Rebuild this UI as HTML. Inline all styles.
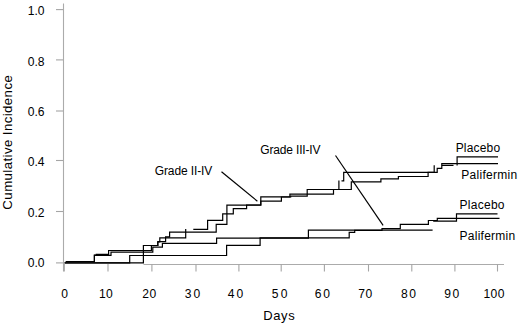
<!DOCTYPE html>
<html><head><meta charset="utf-8"><style>
html,body{margin:0;padding:0;background:#fff;}
svg{display:block;}
text{font-family:"Liberation Sans",sans-serif;fill:#000;}
</style></head><body>
<svg width="520" height="325" viewBox="0 0 520 325">
<rect width="520" height="325" fill="#fff"/>
<g stroke="#ababab" stroke-width="1.1" fill="none">
<line x1="63.5" y1="3.5" x2="63.5" y2="271.5"/>
<line x1="143.5" y1="264.5" x2="504" y2="264.5"/>
</g>
<g stroke="#a5a5a5" stroke-width="1.1" fill="none">
<line x1="56" y1="9.6" x2="63" y2="9.6"/><line x1="56" y1="59.9" x2="63" y2="59.9"/><line x1="56" y1="111.0" x2="63" y2="111.0"/><line x1="56" y1="160.5" x2="63" y2="160.5"/><line x1="56" y1="211.5" x2="63" y2="211.5"/><line x1="56" y1="262.9" x2="63" y2="262.9"/>
<line x1="64.3" y1="264" x2="64.3" y2="271.5"/><line x1="108.0" y1="264" x2="108.0" y2="271.5"/><line x1="151.9" y1="264" x2="151.9" y2="271.5"/><line x1="196.0" y1="264" x2="196.0" y2="271.5"/><line x1="238.9" y1="264" x2="238.9" y2="271.5"/><line x1="281.2" y1="264" x2="281.2" y2="271.5"/><line x1="324.4" y1="264" x2="324.4" y2="271.5"/><line x1="368.5" y1="264" x2="368.5" y2="271.5"/><line x1="411.8" y1="264" x2="411.8" y2="271.5"/><line x1="454.9" y1="264" x2="454.9" y2="271.5"/><line x1="497.5" y1="264" x2="497.5" y2="271.5"/>
</g>
<g font-size="12.1">
<text x="44.5" y="15.30" text-anchor="end">1.0</text><text x="44.5" y="65.90" text-anchor="end">0.8</text><text x="44.5" y="115.80" text-anchor="end">0.6</text><text x="44.5" y="166.40" text-anchor="end">0.4</text><text x="44.5" y="216.80" text-anchor="end">0.2</text><text x="44.5" y="266.90" text-anchor="end">0.0</text>
<text x="61.15" y="297.5" letter-spacing="0.0">0</text><text x="99.1" y="297.5" letter-spacing="0.13">10</text><text x="142.13" y="297.5" letter-spacing="0.68">20</text><text x="184.66" y="297.5" letter-spacing="2.08">30</text><text x="227.72" y="297.5" letter-spacing="1.99">40</text><text x="271.7" y="297.5" letter-spacing="2.23">50</text><text x="314.75" y="297.5" letter-spacing="1.72">60</text><text x="358.36" y="297.5" letter-spacing="0.32">70</text><text x="401.07" y="297.5" letter-spacing="1.36">80</text><text x="444.35" y="297.5" letter-spacing="1.37">90</text><text x="483.45" y="297.5" letter-spacing="0.38">100</text>
</g>
<g stroke="#000" stroke-width="1.2" fill="none" stroke-linecap="butt" stroke-linejoin="miter">
<path d="M65.8 261.5H94.4V255.2H96.3V254.3H108.6V250.5H151.4V245.5H157.8V242.0H159.8V237.8H185.7V228.9"/>
<path d="M193.3 229.3H207.6V220.4H222.7V213.9H233.3V208.6H246.6V205.0H260.8V201.1H281.4V197.0H290.7V196.1H307.2V189.5H351.3V181.8H380.9V178.9H398.4V176.5H428.1V172.3H437.2V168.3H441.8V163.7H498.0"/>
<path d="M64.6 262.8H143.4V245.5H157.8V241.7H165.6V236.8H169.6V232.2H216.2V224.4H226.9V205.2H260.8V196.9H289.9V194.2H333.5V189.5H338.9V180.5"/>
<path d="M341.5 180.9H343.7V172.4H434.2V165.3"/>
<path d="M441.8 165.4H453.5"/>
<path d="M457.1 165.6V156.8H498"/>
<path d="M65.8 261.5H94.4V255.4H111.0V252.1H152.8V247.2H162.4V243.3H216.6V238.2H308.4V230.1H432.6"/>
<path d="M433.2 221.2H456.5V213.8H497.5"/>
<path d="M64.6 262.8H129.7V255.5H226.6V245.3H260.1V237.9H349.2V232.4H354.7V230.3H382.0V228.7H400.3V224.3H428.4V220.5H437.3V218.4H499.5"/>
<line x1="221.5" y1="171.8" x2="257.4" y2="201.2"/>
<line x1="335.5" y1="155.5" x2="383.1" y2="225.4"/>
</g>
<text x="154.74" y="174.8" font-size="12" letter-spacing="-0.12">Grade II-IV</text>
<text x="260.24" y="153.7" font-size="12" letter-spacing="-0.16">Grade III-IV</text>
<text x="455.63" y="151.6" font-size="12" letter-spacing="0.18">Placebo</text>
<text x="461.25" y="178.7" font-size="12" letter-spacing="0.29">Palifermin</text>
<text x="459.54" y="208.8" font-size="12" letter-spacing="0.27">Placebo</text>
<text x="459.54" y="240.3" font-size="12" letter-spacing="0.25">Palifermin</text>
<text x="263.33" y="319.8" font-size="13" letter-spacing="0.57">Days</text>
<text transform="translate(12.3,142.4) rotate(-90)" font-size="13.3" text-anchor="middle" textLength="134.5" lengthAdjust="spacing">Cumulative Incidence</text>
</svg>
</body></html>
